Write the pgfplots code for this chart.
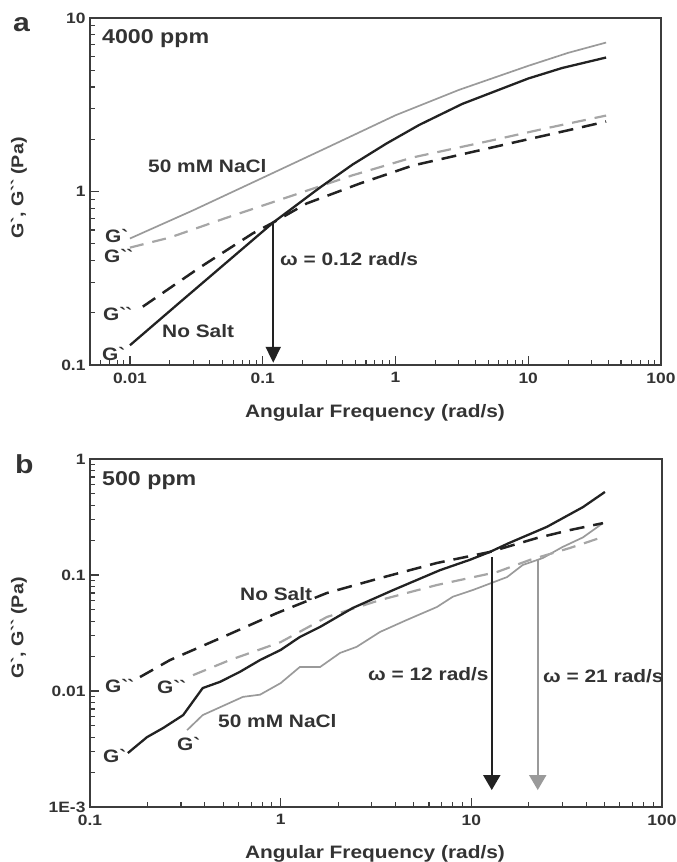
\documentclass[border=0pt]{standalone}
\usepackage{fontspec}
\setmainfont{Liberation Sans}[FakeStretch=1.16]
\usepackage{pgfplots}
\pgfplotsset{compat=1.18}
\usetikzlibrary{arrows.meta}
\definecolor{dk}{HTML}{222222}
\definecolor{gr}{HTML}{9A9A9A}
\definecolor{grd}{HTML}{A6A6A6}
\definecolor{tx}{HTML}{333333}
\definecolor{ax}{HTML}{3C3C3C}
\pgfplotsset{
  myax/.style={
    scale only axis, anchor=north west,
    tick align=inside, xtick pos=bottom, ytick pos=left,
    major tick length=9pt, minor tick length=5pt,
    axis line style={line width=1.5pt, draw=ax},
    tick style={line width=1.1pt, draw=ax},
    tick label style={font=\fontsize{15}{15}\selectfont\bfseries, text=tx},
    xticklabel style={yshift=-4pt},
    yticklabel style={xshift=-1pt},
  },
  gsolid/.style={gr, line width=1.7pt},
  bsolid/.style={dk, line width=2.3pt},
  gdash/.style={grd, line width=2.2pt, dash pattern=on 14pt off 9pt},
  bdash/.style={dk, line width=2.5pt, dash pattern=on 15pt off 9pt},
}
\tikzset{lab/.style={anchor=base west, inner sep=0pt, text=tx, font=\fontsize{18}{18}\selectfont\bfseries}}
\begin{document}
\begin{tikzpicture}
\useasboundingbox (0,0) rectangle (677pt,-862pt);
% ---------------- panel a ----------------
\begin{loglogaxis}[myax, /pgf/number format/assume math mode=true, at={(90pt,-18pt)}, width=571pt, height=347pt,
  xmin=0.005, xmax=100, ymin=0.1, ymax=10,
  xtick={0.01,0.1,1,10,100}, xticklabels={0.01,0.1,1,10,100},
  minor xtick={0.006,0.007,0.008,0.009,0.02,0.03,0.04,0.05,0.06,0.07,0.08,0.09,0.2,0.3,0.4,0.5,0.6,0.7,0.8,0.9,2,3,4,5,6,7,8,9,20,30,40,50,60,70,80,90},
  ytick={0.1,1,10}, yticklabels={0.1,1,10},
  minor ytick={0.2,0.3,0.4,0.5,0.6,0.7,0.8,0.9,2,3,4,5,6,7,8,9},
]
% G' 50 mM NaCl
\addplot[gsolid] coordinates {(0.01,0.536) (0.03,0.78) (0.1,1.2) (0.3,1.78) (1,2.75) (3,3.85) (10,5.3) (20,6.3) (38.6,7.22)};
% G'' 50 mM NaCl
\addplot[gdash] coordinates {(0.01,0.475) (0.02,0.543) (0.054,0.708) (0.151,0.923) (0.475,1.24) (1.34,1.57) (5.3,1.97) (13.5,2.31) (38.6,2.74)};
% G'' no salt
\addplot[bdash] coordinates {(0.0125,0.217) (0.0336,0.365) (0.084,0.573) (0.12,0.663) (0.214,0.853) (0.536,1.11) (1.34,1.41) (3.19,1.64) (8.1,1.93) (20.3,2.26) (38.6,2.53)};
% G' no salt
\addplot[bsolid] coordinates {(0.01,0.13) (0.0238,0.23) (0.12,0.663) (0.268,1.05) (0.475,1.43) (0.855,1.89) (1.51,2.42) (3.19,3.2) (10,4.48) (18,5.15) (38.6,5.92)};
% crossover arrow
\addplot[dk, line width=2pt, -{Triangle[width=15pt,length=16pt]}] coordinates {(0.12,0.655) (0.12,0.103)};
\end{loglogaxis}
% ---------------- panel b ----------------
\begin{loglogaxis}[myax, /pgf/number format/assume math mode=true, at={(90pt,-459pt)}, width=572pt, height=348pt,
  xmin=0.1, xmax=100, ymin=0.001, ymax=1,
  xtick={0.1,1,10,100}, xticklabels={0.1,1,10,100},
  minor xtick={0.2,0.3,0.4,0.5,0.6,0.7,0.8,0.9,2,3,4,5,6,7,8,9,20,30,40,50,60,70,80,90},
  ytick={0.001,0.01,0.1,1}, yticklabels={1E-3,0.01,0.1,1},
  minor ytick={0.002,0.003,0.004,0.005,0.006,0.007,0.008,0.009,0.02,0.03,0.04,0.05,0.06,0.07,0.08,0.09,0.2,0.3,0.4,0.5,0.6,0.7,0.8,0.9},
]
% G' 50 mM NaCl
\addplot[gsolid] coordinates {(0.323,0.0046) (0.39,0.0062) (0.634,0.0089) (0.78,0.0093) (1.0,0.0117) (1.26,0.0161) (1.61,0.0161) (2.05,0.0213) (2.5,0.024) (3.32,0.0323) (4.59,0.041) (6.6,0.053) (8.0,0.065) (10.2,0.0743) (15.4,0.096) (18.6,0.122) (23.7,0.14) (30,0.174) (38.5,0.211) (49,0.28)};
% G'' 50 mM NaCl
\addplot[gdash] coordinates {(0.347,0.0137) (0.542,0.0185) (1.0,0.0264) (1.75,0.0435) (3.32,0.0608) (6.6,0.082) (13.6,0.106) (20.3,0.135) (32.9,0.171) (49,0.213)};
% G'' no salt
\addplot[bdash] coordinates {(0.183,0.0132) (0.263,0.0185) (0.498,0.0292) (0.957,0.047) (1.75,0.07) (3.32,0.094) (6.6,0.127) (12.5,0.158) (22,0.208) (32.9,0.244) (49,0.28)};
% G' no salt
\addplot[bsolid] coordinates {(0.158,0.00292) (0.199,0.004) (0.242,0.0048) (0.308,0.0062) (0.39,0.0106) (0.481,0.012) (0.61,0.0146) (0.78,0.0185) (1.0,0.0226) (1.26,0.0292) (1.61,0.0357) (2.39,0.052) (3.88,0.074) (6.84,0.11) (9.8,0.135) (12.5,0.158) (15.8,0.189) (24.9,0.26) (38.5,0.385) (50.2,0.52)};
% arrows
\addplot[dk, line width=2pt, -{Triangle[width=17pt,length=15pt]}] coordinates {(12.8,0.143) (12.8,0.0014)};
\addplot[gr, line width=2pt, -{Triangle[width=17pt,length=15pt]}] coordinates {(22.3,0.135) (22.3,0.0014)};
\end{loglogaxis}
% ---------------- text ----------------
\node[lab, font=\fontsize{26}{26}\selectfont\bfseries] at (13pt,-31pt) {a};
\node[lab, font=\fontsize{26}{26}\selectfont\bfseries] at (15pt,-473pt) {b};
\node[lab, font=\fontsize{20}{20}\selectfont\bfseries] at (102pt,-43pt) {4000 ppm};
\node[lab, font=\fontsize{20}{20}\selectfont\bfseries] at (102pt,-485pt) {500 ppm};
\node[rotate=90, inner sep=0pt, text=tx, font=\fontsize{17}{17}\selectfont\bfseries] at (19pt,-188pt) {G\textasciigrave, G\textasciigrave\textasciigrave\ (Pa)};
\node[rotate=90, inner sep=0pt, text=tx, font=\fontsize{17}{17}\selectfont\bfseries] at (19pt,-628pt) {G\textasciigrave, G\textasciigrave\textasciigrave\ (Pa)};
\node[anchor=base, inner sep=0pt, text=tx, font=\fontsize{18}{18}\selectfont\bfseries] at (375pt,-417pt) {Angular Frequency (rad/s)};
\node[anchor=base, inner sep=0pt, text=tx, font=\fontsize{18}{18}\selectfont\bfseries] at (375pt,-858pt) {Angular Frequency (rad/s)};
% panel a labels
\node[lab] at (148pt,-172pt) {50 mM NaCl};
\node[lab] at (105pt,-242pt) {G\textasciigrave};
\node[lab] at (104pt,-262pt) {G\textasciigrave\textasciigrave};
\node[lab] at (103pt,-320pt) {G\textasciigrave\textasciigrave};
\node[lab] at (162pt,-337pt) {No Salt};
\node[lab] at (102pt,-360pt) {G\textasciigrave};
\node[lab] at (280pt,-265pt) {ω = 0.12 rad/s};
% panel b labels
\node[lab] at (240pt,-600pt) {No Salt};
\node[lab] at (105pt,-692pt) {G\textasciigrave\textasciigrave};
\node[lab] at (157pt,-693pt) {G\textasciigrave\textasciigrave};
\node[lab] at (218pt,-727pt) {50 mM NaCl};
\node[lab] at (177pt,-750pt) {G\textasciigrave};
\node[lab] at (103pt,-762pt) {G\textasciigrave};
\node[lab] at (368pt,-680pt) {ω = 12 rad/s};
\node[lab] at (543pt,-682pt) {ω = 21 rad/s};
\end{tikzpicture}
\end{document}
